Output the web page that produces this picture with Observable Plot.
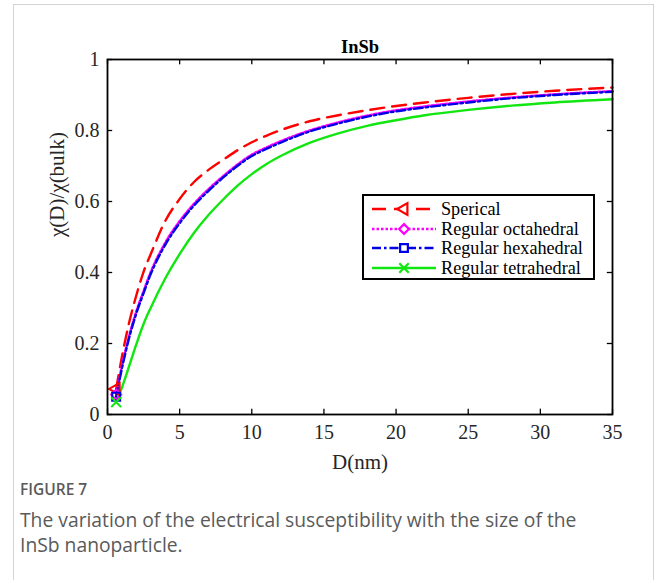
<!DOCTYPE html>
<html>
<head>
<meta charset="utf-8">
<script src="https://cdn.jsdelivr.net/npm/d3@7"></script>
<script src="https://cdn.jsdelivr.net/npm/@observablehq/plot@0.6"></script>
<style>
  html, body { margin: 0; padding: 0; background: #fff; width: 658px; height: 580px; overflow: hidden; }
  #card { position: absolute; left: 13px; top: 4px; width: 641px; height: 700px; border: 1px solid #d4d4d4; box-sizing: border-box; }
  #chart { position: absolute; left: 0; top: 0; }
  #legend { position: absolute; left: 362px; top: 194px; width: 233px; height: 86px; border: 2px solid #000; background: #fff; box-sizing: border-box; font-family: "Liberation Serif", serif; font-size: 18.2px; color: #000; }
  .row { position: absolute; left: 0; height: 20px; width: 229px; }
  .row svg { position: absolute; left: 6px; top: 0; }
  .row span { position: absolute; left: 77px; top: 0; line-height: 20px; white-space: nowrap; }
  #caption { position: absolute; left: 20px; top: 478px; font-family: "Open Sans", sans-serif; color: #5a5a5a; }
  #fig { font-size: 15.5px; font-weight: 600; line-height: 22px; }
  #captext { font-size: 19.3px; line-height: 25px; margin-top: 7px; width: 600px; }
</style>
</head>
<body>
<div id="card"></div>
<div id="chart"></div>
<div id="legend"></div>
<div id="caption">
  <div id="fig">FIGURE 7</div>
  <div id="captext">The variation of the electrical susceptibility with the size of the InSb nanoparticle.</div>
</div>
<script>
// ---- data ----
const D = [0.6, 1, 1.5, 2, 2.5, 3, 4, 5, 6, 7, 8, 9, 10, 11, 12, 14, 16, 18, 20, 22, 25, 28, 31, 35];
const sperical    = [0.072, 0.163, 0.259, 0.336, 0.402, 0.452, 0.545, 0.607, 0.655, 0.689, 0.717, 0.744, 0.767, 0.785, 0.801, 0.826, 0.843, 0.857, 0.869, 0.879, 0.892, 0.903, 0.912, 0.921];
const octahedral  = [0.056, 0.137, 0.222, 0.291, 0.348, 0.402, 0.484, 0.545, 0.594, 0.635, 0.671, 0.704, 0.732, 0.752, 0.770, 0.800, 0.823, 0.842, 0.857, 0.868, 0.882, 0.893, 0.902, 0.911];
const hexahedral  = [0.050, 0.130, 0.216, 0.285, 0.342, 0.396, 0.478, 0.539, 0.589, 0.630, 0.667, 0.700, 0.728, 0.748, 0.766, 0.797, 0.820, 0.839, 0.854, 0.865, 0.879, 0.891, 0.900, 0.909];
const tetrahedral = [0.035, 0.076, 0.136, 0.198, 0.255, 0.301, 0.383, 0.452, 0.512, 0.562, 0.605, 0.644, 0.677, 0.705, 0.728, 0.765, 0.792, 0.813, 0.829, 0.843, 0.858, 0.870, 0.879, 0.888];
const seriesNames = ["Sperical", "Regular octahedral", "Regular hexahedral", "Regular tetrahedral"];
const xTicks = [0, 5, 10, 15, 20, 25, 30, 35];
const yTicks = [0, 0.2, 0.4, 0.6, 0.8, 1];
const titleText = "InSb";
const xLabel = "D(nm)";
const yLabel = "χ(D)/χ(bulk)";

const styles = [
  {color: "#ff0000", dash: "14,8", symbol: "triangle", rotate: -90},
  {color: "#ff00ff", dash: "2.5,2", symbol: "diamond2", rotate: 0},
  {color: "#0000e6", dash: "9,3,2.5,3", symbol: "square", rotate: 0},
  {color: "#11e611", dash: null, symbol: "times", rotate: 0}
];
const values = [sperical, octahedral, hexahedral, tetrahedral];
const tables = values.map((vals, i) => D.map((d, j) => ({D: d, v: vals[j], s: seriesNames[i]})));

const marks = [];
tables.forEach((t, i) => {
  const st = styles[i];
  marks.push(Plot.line(t, {x: "D", y: "v", stroke: st.color, strokeWidth: 2.4, strokeDasharray: st.dash || undefined, curve: "monotone-x"}));
});
tables.forEach((t, i) => {
  const st = styles[i];
  marks.push(Plot.dot([t[0]], {x: "D", y: "v", stroke: st.color, strokeWidth: 2, fill: "none", symbol: st.symbol, rotate: st.rotate, r: 4.5}));
});

const chart = Plot.plot({
  width: 658,
  height: 480,
  marginLeft: 107,
  marginRight: 46,
  marginTop: 59,
  marginBottom: 66,
  style: {fontFamily: "'Liberation Serif', serif", fontSize: "20px", color: "#262626", background: "transparent"},
  x: {domain: [0, 35]},
  y: {domain: [0, 1]},
  marks: [
    ...marks,
    Plot.ruleX(xTicks, {x: d => d, y1: 0, y2: 0.015, stroke: "#000", strokeWidth: 1.3}),
    Plot.ruleX(xTicks, {x: d => d, y1: 1, y2: 0.985, stroke: "#000", strokeWidth: 1.3}),
    Plot.ruleY(yTicks, {y: d => d, x1: 0, x2: 0.36, stroke: "#000", strokeWidth: 1.3}),
    Plot.ruleY(yTicks, {y: d => d, x1: 35, x2: 34.64, stroke: "#000", strokeWidth: 1.3}),
    Plot.frame({stroke: "#000", strokeWidth: 1.8}),
    Plot.axisX(xTicks, {tickSize: 0, tickPadding: 10, label: null, fontSize: 20}),
    Plot.axisY(yTicks, {tickSize: 0, tickPadding: 8, label: null, fontSize: 20, tickFormat: d => String(d)}),
    Plot.text([titleText], {frameAnchor: "top", lineAnchor: "middle", dy: -12, text: d => d, fontWeight: "bold", fontSize: 18.5, fill: "#000"}),
    Plot.text([xLabel], {frameAnchor: "bottom", lineAnchor: "middle", dy: 48, text: d => d, fontSize: 21, fill: "#262626"}),
    Plot.text([yLabel], {frameAnchor: "left", lineAnchor: "middle", dx: -50, rotate: -90, text: d => d, fontSize: 21, fill: "#262626"})
  ]
});
document.getElementById("chart").appendChild(chart);

// legend
const legend = document.getElementById("legend");
seriesNames.forEach((name, i) => {
  const st = styles[i];
  const row = document.createElement("div");
  row.className = "row";
  row.style.top = (3 + i * 19.5) + "px";
  const svg = d3.create("svg").attr("width", 68).attr("height", 20);
  svg.append("line").attr("x1", 2).attr("x2", 66).attr("y1", 10).attr("y2", 10)
    .attr("stroke", st.color).attr("stroke-width", 2.4)
    .attr("stroke-dasharray", st.dash);
  const symMap = {triangle: d3.symbolTriangle, diamond2: d3.symbolDiamond2, square: d3.symbolSquare, times: d3.symbolTimes};
  svg.append("path").attr("d", d3.symbol(symMap[st.symbol], 60)())
    .attr("transform", `translate(34,10) rotate(${st.rotate})`)
    .attr("fill", "#fff").attr("stroke", st.color).attr("stroke-width", 2.2);
  row.appendChild(svg.node());
  const span = document.createElement("span");
  span.textContent = name;
  row.appendChild(span);
  legend.appendChild(row);
});
</script>
</body>
</html>
